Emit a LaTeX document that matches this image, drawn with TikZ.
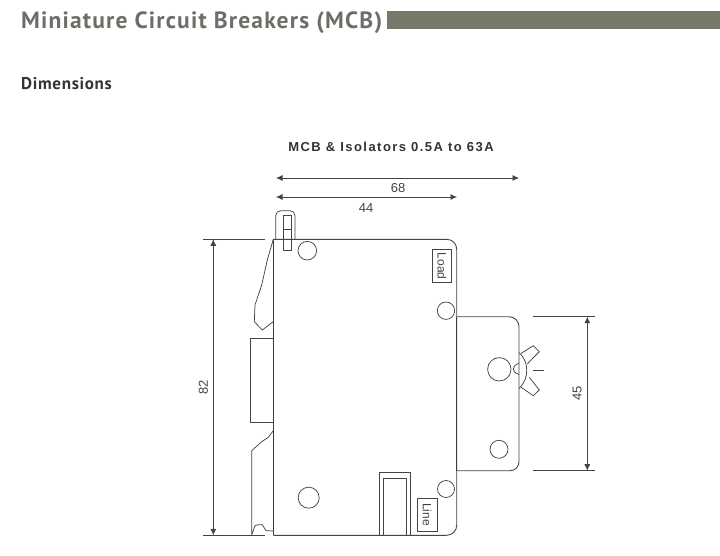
\documentclass[tikz,border=0pt]{standalone}
\usepackage{fontspec}
\newfontfamily\titlefont[LetterSpace=5]{PT Sans}
\newfontfamily\subfont[LetterSpace=4]{PT Sans}
\newfontfamily\dimfont{Liberation Sans}
\newfontfamily\capfont[LetterSpace=11.2]{Liberation Sans}
\usetikzlibrary{arrows.meta}
\definecolor{titlegrey}{HTML}{6E6E68}
\definecolor{barolive}{HTML}{77776A}
\definecolor{inkgrey}{HTML}{444444}
\tikzset{
  x=1pt,y=-1pt,
  outline/.style={draw=inkgrey,line width=0.9pt,line join=round},
  heavy/.style={draw=inkgrey!85!black,line width=1.2pt},
  thinline/.style={draw=inkgrey,line width=0.75pt,line join=round},
  extline/.style={draw=inkgrey,line width=1pt},
  dimline/.style={draw=inkgrey,line width=0.7pt,{Latex[length=6.5pt,width=6pt]}-{Latex[length=6.5pt,width=6pt]}},
  dimtext/.style={font=\dimfont\fontsize{13}{15}\selectfont,text=inkgrey,inner sep=0pt},
  tagbox/.style={draw=inkgrey,line width=0.7pt,font=\dimfont\fontsize{12}{13}\selectfont,text=inkgrey,rotate=-90,inner sep=0pt,minimum width=33pt,minimum height=19.5pt},
}
\begin{document}
\begin{tikzpicture}
\useasboundingbox (0,0) rectangle (720,556);
% header
\node[anchor=base west,inner sep=0pt,text=titlegrey,font=\titlefont\bfseries\fontsize{23.5}{26}\selectfont] (title) at (21,28.7) {Miniature Circuit Breakers (MCB)};
\fill[barolive] (387,11) rectangle (720,29);
\node[anchor=base west,inner sep=0pt,text=black!80,font=\subfont\bfseries\fontsize{17}{19}\selectfont] (sub) at (21,89.5) {Dimensions};
\node[anchor=base,inner sep=0pt,text=black!80,font=\capfont\bfseries\fontsize{13}{15}\selectfont] (cap) at (391,152) {MCB \& Isolators 0.5A to 63A};
% horizontal dimensions
\coordinate (h68a) at (276,178); \coordinate (h68b) at (519,178);
\coordinate (h44a) at (276,197); \coordinate (h44b) at (457,197);
\draw[dimline] (h68a) -- (h68b);
\draw[dimline] (h44a) -- (h44b);
\node[dimtext] (n68) at (398,188.5) {68};
\node[dimtext] (n44) at (366,208.5) {44};
% vertical dimension 82
\coordinate (v82a) at (213.3,239.3); \coordinate (v82b) at (213.3,535.3);
\draw[extline] (203,239.3) -- (265,239.3);
\draw[extline] (203,535.3) -- (265,535.3);
\draw[dimline] (v82a) -- (v82b);
\node[dimtext,rotate=90] (n82) at (203.3,387) {82};
% vertical dimension 45
\coordinate (v45a) at (587.3,316.7); \coordinate (v45b) at (587.3,470.7);
\draw[extline] (533.3,316.7) -- (594.5,316.7);
\draw[extline] (533.3,470.7) -- (594.5,470.7);
\draw[dimline] (v45a) -- (v45b);
\node[dimtext,rotate=90] (n45) at (577.3,393.3) {45};
% mounting plate
\draw[outline] (457,316.7) -- (509,316.7) arc[start angle=-90,end angle=0,radius=10] -- (519,461.7) arc[start angle=0,end angle=90,radius=9] -- (457,470.7);
% main body
\draw[outline] (273.3,239.3) -- (446.7,239.3) arc[start angle=-90,end angle=0,radius=10] -- (456.7,525.3) arc[start angle=0,end angle=90,radius=10] -- (273.3,535.3);
\draw[heavy] (273.3,239.3) -- (273.3,535.3);
\draw[heavy] (456.7,316.7) -- (456.7,470.7);
% toggle
\draw[thinline,rounded corners=5pt] (275.7,239.3) -- (275.7,210.7) -- (295,210.7) -- (295,239.3);
\draw[thinline] (283.7,215.3) rectangle (291,250);
\draw[thinline] (283.7,229.3) -- (291,229.3);
% upper clip
\draw[thinline] (273.3,239.3) -- (267.3,260) -- (261.7,285) -- (255,305) -- (254.3,321.7) -- (262.3,330) -- (273.3,321.7);
% DIN rail block
\draw[thinline] (273.3,338.3) -- (250,338.3) -- (250,422.7) -- (273.3,422.7);
% lower clip
\draw[thinline] (273.3,430.7) -- (268.3,437.3) -- (261.7,441.7) -- (251.7,450.7) -- (251.7,535) -- (255,525.7) -- (258.3,524.7) -- (262.3,524.7) -- (266,530.7) -- (273.3,531);
% holes
\draw[thinline] (307.3,250.7) circle[radius=9.3];
\draw[thinline] (308.7,497.7) circle[radius=10.5];
\draw[thinline] (446,310.7) circle[radius=8.7];
\draw[thinline] (446,489) circle[radius=8.5];
\draw[thinline] (499.3,369.3) circle[radius=11.7];
\draw[thinline] (499,449.3) circle[radius=9];
% labels
\node[tagbox] (load) at (441.8,266.3) {Load};
\node[tagbox] (line) at (427.2,514.5) {Line};
% terminal
\draw[thinline] (379,535.3) -- (379,472) -- (410.3,472) -- (410.3,535.3);
\draw[thinline] (383.3,535.3) -- (383.3,478.3) -- (406.7,478.3) -- (406.7,535.3);
% wing nut
\draw[thinline] (519,352.7) .. controls (525,358) and (526.7,364) .. (526.7,370) .. controls (526.7,376) and (525,383) .. (519,388.3);
\draw[thinline] (519,363.3) .. controls (515,364.5) and (513.3,367) .. (513.3,369) .. controls (513.3,371) and (515,373.5) .. (519,374.3);
\draw[thinline] (521,353.5) -- (533.3,345.7) -- (539.3,351.7) -- (533,358) -- (527.3,364);
\draw[thinline] (520.7,387) -- (533.3,395.7) -- (539.3,390) -- (529.3,377.3);
\draw[thinline] (533.3,370.7) -- (544,370.7);
\end{tikzpicture}
\end{document}
